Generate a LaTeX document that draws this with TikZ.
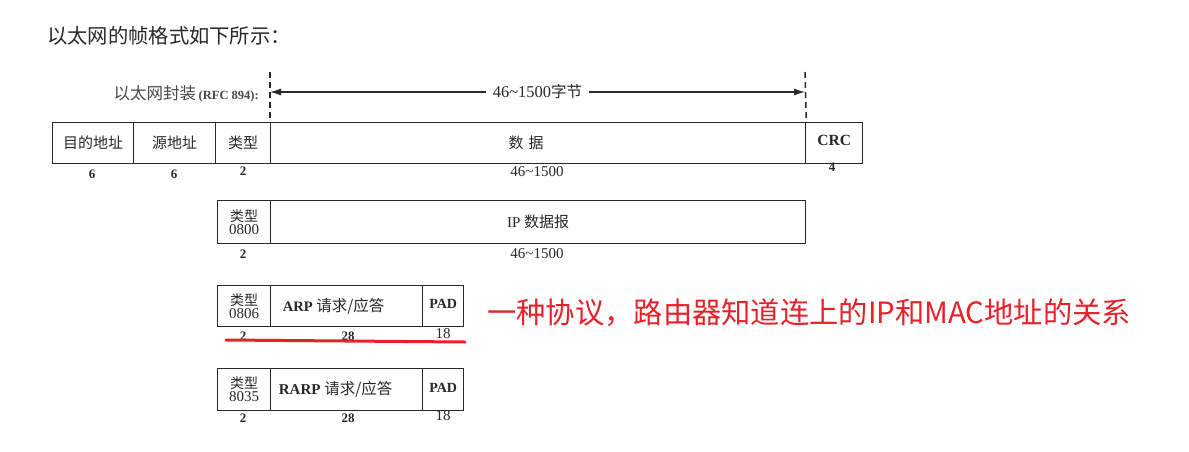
\documentclass[tikz,border=0pt]{standalone}
\usepackage{fontspec}
\setmainfont{Liberation Serif}
\newfontfamily\cjk{Noto Sans CJK SC}
\usetikzlibrary{arrows.meta}
\definecolor{ink}{RGB}{40,40,40}
\definecolor{redc}{RGB}{232,32,42}
\begin{document}
\begin{tikzpicture}[x=1pt,y=-1pt,
  line/.style={draw=ink, line width=1.3pt},
  cell/.style={line, anchor=north west, inner sep=0pt, align=center, text=ink},
  cn/.style={font=\cjk\fontsize{15}{16}\selectfont},
  typcell/.style={cell, font=\fontsize{15}{13}\selectfont},
  num/.style={text=ink, inner sep=0pt, font=\bfseries\fontsize{13}{14}\selectfont},
  numr/.style={text=ink, inner sep=0pt, font=\fontsize{15}{16}\selectfont},
  dashv/.style={draw=ink, line width=1.5pt, dash pattern=on 6pt off 4pt},
  redline/.style={draw=redc, line width=3pt, line cap=round}]
\useasboundingbox[fill=white] (0,0) rectangle (1189,451);

% title
\node[anchor=west, inner sep=0pt, text=ink, font=\cjk\fontsize{20.3}{21}\selectfont] (title) at (47,36) {以太网的帧格式如下所示：};

% row 1
\node[anchor=east, inner sep=0pt, text=ink!85] (enc) at (259,94) {{\cjk\fontsize{16.5}{17}\selectfont 以太网封装} {\bfseries\fontsize{12.5}{13}\selectfont (RFC 894):}};
\node[cell, cn, minimum width=81pt, minimum height=41pt] (dst) at (52,122) {目的地址};
\node[cell, cn, minimum width=82pt, minimum height=41pt] (src) at (133,122) {源地址};
\node[cell, cn, minimum width=55pt, minimum height=41pt] (typ) at (215,122) {类型};
\node[cell, cn, minimum width=535pt, minimum height=41pt] (data) at (270,122) {\hspace*{-24pt}数\,\,据};
\node[cell, minimum width=57pt, minimum height=41pt, font=\bfseries\fontsize{15.5}{16}\selectfont] (crc) at (805,122) {\raisebox{6pt}{CRC}};
\node[num] (n1) at (92,174) {6};
\node[num] (n2) at (174,174) {6};
\node[num] (n3) at (243,171) {2};
\node[numr] (n4) at (537,172) {46\textasciitilde1500};
\node[num] (n5) at (832,167) {4};

\coordinate (d1t) at (270,72);
\coordinate (d2t) at (805,72);
\draw[dashv] (d1t) -- (data.north west);
\draw[dashv] (d2t) -- (data.north east);
\coordinate (a1) at (270,92);
\coordinate (a2) at (805,92);
\draw[line, line width=1.2pt, {Latex[length=11pt,width=7pt]}-{Latex[length=11pt,width=7pt]}] (a1) -- (a2)
  node[midway, fill=white, inner xsep=7pt, text=ink, font=\fontsize{16.5}{17}\selectfont] (alab) {46\textasciitilde1500{\cjk\fontsize{15.5}{16}\selectfont 字节}};

% row 2
\node[typcell, minimum width=53pt, minimum height=43pt] (typ2) at (217,200) {{\cjk\fontsize{14}{14}\selectfont 类型}\\0800};
\node[cell, minimum width=535pt, minimum height=43pt, font=\fontsize{15}{16}\selectfont] (ip) at (270,200) {IP {\cjk 数据报}};
\node[num] (m1) at (243,254) {2};
\node[numr] (m2) at (537,254) {46\textasciitilde1500};

% row 3
\node[typcell, minimum width=53pt, minimum height=41pt] (typ3) at (217,285) {{\cjk\fontsize{14}{14}\selectfont 类型}\\0806};
\node[cell, minimum width=152pt, minimum height=41pt, font=\bfseries\fontsize{14.5}{15}\selectfont] (arp) at (270,285) {\hspace*{-26pt}ARP {\cjk\mdseries\fontsize{15.5}{16}\selectfont 请求/应答}};
\node[cell, minimum width=41pt, minimum height=41pt, font=\bfseries\fontsize{14}{15}\selectfont] (pad3) at (422,285) {\raisebox{4pt}{PAD}};
\node[num] (k1) at (243,336) {2};
\node[num] (k2) at (348,336) {28};
\node[numr] (k3) at (443,334) {18};

\coordinate (u1) at (226,340);
\coordinate (u2) at (465,342);
\draw[redline] (u1) -- (u2);

\node[anchor=west, inner sep=0pt, text=redc, font=\cjk\fontsize{29.3}{30}\selectfont] (note) at (487,313) {一种协议，路由器知道连上的IP和MAC地址的关系};

% row 4
\node[typcell, minimum width=53pt, minimum height=42pt] (typ4) at (217,368) {{\cjk\fontsize{14}{14}\selectfont 类型}\\8035};
\node[cell, minimum width=152pt, minimum height=42pt, font=\bfseries\fontsize{15}{15}\selectfont] (rarp) at (270,368) {\hspace*{-22pt}RARP {\cjk\mdseries\fontsize{15.5}{16}\selectfont 请求/应答}};
\node[cell, minimum width=41pt, minimum height=42pt, font=\bfseries\fontsize{14}{15}\selectfont] (pad4) at (422,368) {\raisebox{4pt}{PAD}};
\node[num] (r1) at (243,418) {2};
\node[num] (r2) at (348,418) {28};
\node[numr] (r3) at (443,416) {18};
\end{tikzpicture}
\end{document}
